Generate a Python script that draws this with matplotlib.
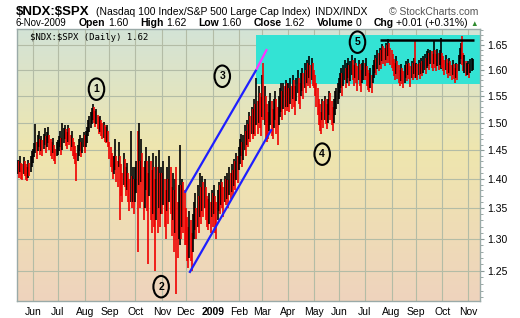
import numpy as np
import pandas as pd
import matplotlib
matplotlib.use('Agg')
import matplotlib.pyplot as plt
from matplotlib.patches import Rectangle
from matplotlib.colors import LinearSegmentedColormap
from matplotlib.ticker import FixedLocator, FixedFormatter, NullFormatter

START = '2008-05-14'

# daily closes (x1000), May 2008 .. Nov 2009
close = [
    1422, 1418, 1428, 1415, 1410, 1425, 1418, 1412, 1405, 1420, 1415, 1428, 1435,
    1440, 1452, 1460, 1448, 1465, 1472, 1458, 1462, 1455, 1468, 1475, 1460, 1470, 1478, 1465, 1458, 1450, 1462, 1445, 1438, 1452,
    1455, 1462, 1470, 1458, 1465, 1478, 1485, 1472, 1468, 1480, 1475, 1462, 1470, 1458, 1450, 1440, 1420, 1445, 1455, 1462, 1450, 1458, 1470,
    1462, 1470, 1478, 1490, 1498, 1505, 1512, 1520, 1515, 1508, 1512, 1502, 1495, 1498, 1490, 1485, 1488, 1480, 1476, 1480, 1472,
    1450, 1440, 1428, 1420, 1425, 1432, 1418, 1410, 1440, 1415, 1400, 1385, 1420, 1410, 1398, 1405, 1385, 1370, 1400, 1380, 1392, 1375,
    1395, 1410, 1380, 1420, 1385, 1440, 1400, 1370, 1395, 1425, 1390, 1360, 1410, 1380, 1350, 1395, 1370, 1340, 1385, 1360, 1400, 1365, 1380,
    1375, 1395, 1360, 1340, 1385, 1365, 1400, 1380, 1345, 1370, 1330, 1355, 1320, 1300, 1350, 1390, 1340, 1370, 1355, 1330,
    1320, 1300, 1285, 1310, 1290, 1275, 1305, 1330, 1345, 1320, 1355, 1340, 1365, 1350, 1375, 1360, 1380, 1355, 1345, 1340, 1350, 1335, 1360,
    1350, 1365, 1340, 1330, 1355, 1370, 1365, 1380, 1372, 1360, 1385, 1378, 1390, 1375, 1395, 1388, 1400, 1392, 1410, 1405, 1420, 1415,
    1430, 1445, 1460, 1440, 1455, 1470, 1462, 1480, 1475, 1495, 1488, 1505, 1498, 1520, 1510, 1530, 1515, 1545, 1530, 1525,
    1545, 1530, 1535, 1520, 1500, 1490, 1510, 1525, 1505, 1495, 1515, 1530, 1510, 1495, 1520, 1535, 1545, 1530, 1550, 1540, 1555, 1548,
    1555, 1540, 1560, 1548, 1570, 1555, 1545, 1565, 1580, 1560, 1550, 1575, 1585, 1570, 1590, 1580, 1600, 1595, 1610, 1590, 1605, 1595,
    1585, 1570, 1555, 1540, 1520, 1510, 1500, 1525, 1515, 1530, 1520, 1510, 1525, 1540, 1530, 1515, 1505, 1520, 1535, 1545, 1555,
    1565, 1575, 1585, 1570, 1590, 1600, 1585, 1595, 1605, 1590, 1598, 1610, 1600, 1590, 1605, 1595, 1585, 1600, 1590, 1580, 1595, 1600,
    1598, 1605, 1590, 1580, 1575, 1585, 1570, 1590, 1600, 1612, 1605, 1620, 1615, 1628, 1620, 1635, 1630, 1625, 1638, 1632, 1645, 1635, 1628,
    1622, 1615, 1605, 1598, 1610, 1600, 1592, 1585, 1595, 1588, 1580, 1592, 1600, 1595, 1605, 1598, 1590, 1602, 1598, 1610, 1595,
    1600, 1595, 1605, 1598, 1608, 1602, 1610, 1615, 1608, 1620, 1625, 1618, 1628, 1622, 1615, 1630, 1622, 1615, 1625, 1618, 1628, 1632,
    1620, 1612, 1605, 1615, 1608, 1600, 1610, 1602, 1595, 1605, 1598, 1590, 1600, 1595, 1612, 1630, 1642, 1625, 1610, 1618, 1600, 1605,
    1605, 1598, 1610, 1612, 1620,
]
high = [
    1432, 1430, 1440, 1428, 1425, 1438, 1430, 1425, 1420, 1432, 1428, 1440, 1448,
    1452, 1462, 1498, 1465, 1478, 1485, 1470, 1475, 1468, 1480, 1490, 1475, 1482, 1492, 1478, 1470, 1465, 1472, 1460, 1452, 1465,
    1468, 1475, 1485, 1472, 1500, 1490, 1495, 1488, 1482, 1495, 1490, 1478, 1485, 1472, 1465, 1458, 1445, 1460, 1470, 1478, 1465, 1472, 1482,
    1478, 1485, 1492, 1505, 1512, 1520, 1528, 1535, 1530, 1522, 1525, 1515, 1510, 1512, 1505, 1500, 1502, 1495, 1492, 1495, 1485,
    1465, 1455, 1445, 1440, 1440, 1470, 1440, 1430, 1465, 1440, 1425, 1410, 1445, 1435, 1420, 1428, 1410, 1400, 1485, 1405, 1420, 1400,
    1420, 1430, 1485, 1500, 1430, 1470, 1445, 1420, 1430, 1455, 1430, 1410, 1440, 1430, 1415, 1445, 1420, 1400, 1440, 1420, 1450, 1410, 1420,
    1410, 1430, 1400, 1380, 1420, 1400, 1440, 1420, 1385, 1410, 1380, 1400, 1420, 1360, 1390, 1460, 1390, 1400, 1395, 1380,
    1350, 1335, 1320, 1345, 1330, 1310, 1340, 1360, 1375, 1350, 1390, 1370, 1410, 1385, 1405, 1395, 1400, 1385, 1370, 1365, 1375, 1360, 1380,
    1375, 1390, 1370, 1360, 1380, 1395, 1390, 1400, 1395, 1385, 1405, 1400, 1410, 1398, 1420, 1410, 1425, 1415, 1435, 1430, 1445, 1440,
    1455, 1470, 1480, 1465, 1478, 1495, 1485, 1505, 1498, 1520, 1512, 1530, 1525, 1545, 1535, 1585, 1540, 1570, 1555, 1548,
    1590, 1615, 1570, 1550, 1535, 1520, 1540, 1555, 1540, 1525, 1545, 1560, 1545, 1530, 1550, 1565, 1575, 1560, 1575, 1570, 1580, 1575,
    1575, 1565, 1585, 1570, 1590, 1580, 1570, 1585, 1600, 1585, 1575, 1595, 1605, 1595, 1615, 1600, 1620, 1615, 1628, 1610, 1625, 1615,
    1600, 1590, 1575, 1565, 1545, 1535, 1520, 1545, 1540, 1550, 1545, 1535, 1545, 1560, 1555, 1540, 1530, 1545, 1560, 1565, 1575,
    1585, 1595, 1605, 1595, 1610, 1620, 1605, 1615, 1625, 1610, 1618, 1630, 1620, 1610, 1625, 1615, 1608, 1620, 1612, 1600, 1615, 1620,
    1615, 1625, 1608, 1600, 1595, 1605, 1590, 1610, 1620, 1630, 1625, 1640, 1635, 1645, 1640, 1652, 1648, 1645, 1655, 1650, 1662, 1655, 1645,
    1640, 1632, 1622, 1615, 1628, 1618, 1610, 1600, 1612, 1605, 1598, 1610, 1618, 1612, 1622, 1615, 1608, 1618, 1615, 1625, 1660,
    1615, 1612, 1620, 1615, 1625, 1618, 1628, 1632, 1625, 1638, 1642, 1635, 1640, 1638, 1632, 1660, 1640, 1632, 1642, 1635, 1640, 1665,
    1635, 1628, 1620, 1630, 1622, 1615, 1625, 1618, 1610, 1620, 1612, 1605, 1615, 1612, 1630, 1645, 1655, 1668, 1635, 1630, 1618, 1615,
    1618, 1612, 1622, 1625, 1622,
]
low = [
    1408, 1402, 1412, 1400, 1398, 1408, 1405, 1398, 1396, 1402, 1405, 1412, 1420,
    1428, 1438, 1445, 1435, 1448, 1455, 1442, 1448, 1440, 1452, 1460, 1445, 1455, 1462, 1450, 1440, 1435, 1445, 1430, 1425, 1440,
    1442, 1448, 1455, 1442, 1450, 1462, 1470, 1458, 1452, 1465, 1460, 1448, 1455, 1440, 1435, 1425, 1396, 1430, 1440, 1448, 1438, 1445, 1455,
    1445, 1455, 1462, 1475, 1482, 1490, 1498, 1505, 1500, 1492, 1498, 1488, 1480, 1482, 1475, 1470, 1472, 1465, 1462, 1465, 1455,
    1435, 1420, 1412, 1400, 1408, 1415, 1395, 1385, 1420, 1330, 1370, 1360, 1390, 1385, 1370, 1380, 1360, 1345, 1360, 1350, 1360, 1340,
    1360, 1375, 1280, 1390, 1350, 1395, 1360, 1330, 1350, 1380, 1345, 1260, 1370, 1330, 1310, 1340, 1320, 1250, 1330, 1310, 1350, 1320, 1340,
    1340, 1355, 1320, 1300, 1345, 1325, 1360, 1340, 1305, 1330, 1280, 1310, 1215, 1270, 1300, 1290, 1300, 1320, 1310, 1290,
    1290, 1265, 1255, 1270, 1265, 1250, 1280, 1300, 1315, 1300, 1320, 1310, 1335, 1325, 1345, 1335, 1350, 1330, 1320, 1315, 1325, 1310, 1335,
    1320, 1340, 1310, 1300, 1330, 1345, 1340, 1355, 1350, 1335, 1360, 1355, 1365, 1350, 1372, 1365, 1378, 1370, 1388, 1380, 1398, 1392,
    1415, 1425, 1440, 1420, 1432, 1450, 1440, 1460, 1455, 1470, 1465, 1480, 1470, 1480, 1475, 1495, 1480, 1500, 1490, 1475,
    1510, 1505, 1495, 1470, 1465, 1470, 1485, 1495, 1475, 1470, 1490, 1505, 1480, 1460, 1495, 1510, 1520, 1505, 1525, 1515, 1530, 1522,
    1530, 1520, 1535, 1525, 1545, 1530, 1515, 1540, 1555, 1535, 1525, 1550, 1560, 1545, 1565, 1555, 1575, 1570, 1585, 1565, 1580, 1570,
    1565, 1550, 1530, 1515, 1495, 1485, 1480, 1505, 1490, 1505, 1498, 1488, 1500, 1515, 1505, 1495, 1485, 1500, 1515, 1525, 1535,
    1545, 1555, 1565, 1550, 1570, 1580, 1565, 1575, 1585, 1570, 1578, 1590, 1580, 1570, 1585, 1575, 1560, 1580, 1570, 1558, 1575, 1580,
    1580, 1588, 1570, 1562, 1558, 1565, 1555, 1575, 1585, 1595, 1590, 1602, 1598, 1610, 1602, 1618, 1612, 1608, 1620, 1615, 1628, 1615, 1610,
    1605, 1598, 1588, 1580, 1592, 1582, 1575, 1570, 1578, 1572, 1565, 1575, 1585, 1578, 1590, 1582, 1568, 1585, 1580, 1592, 1585,
    1585, 1580, 1590, 1582, 1592, 1588, 1595, 1600, 1592, 1605, 1608, 1600, 1612, 1605, 1598, 1612, 1605, 1598, 1608, 1600, 1610, 1602,
    1605, 1598, 1590, 1600, 1592, 1585, 1595, 1588, 1580, 1590, 1582, 1575, 1585, 1580, 1598, 1612, 1622, 1610, 1598, 1595, 1588, 1590,
    1590, 1585, 1595, 1598, 1600,
]

y_ticks = [1.25, 1.30, 1.35, 1.40, 1.45, 1.50, 1.55, 1.60, 1.65]
y_tick_labels = ['1.25', '1.30', '1.35', '1.40', '1.45', '1.50', '1.55', '1.60', '1.65']

ann_labels = ['1', '2', '3', '4', '5']
ann_dates = ['2008-08-15', '2008-10-31', '2009-01-13', '2009-05-12', '2009-06-23']
ann_prices = [1.563, 1.226, 1.588, 1.443, 1.656]

upper_dates = ['2008-11-28', '2009-02-23']
upper_prices = [1.376, 1.601]
upper_ext_dates = ['2009-02-23', '2009-03-06']
upper_ext_prices = [1.601, 1.642]
lower_dates = ['2008-12-04', '2009-03-12']
lower_prices = [1.247, 1.488]
resist_dates = ['2009-07-20', '2009-11-09']
resist_price = 1.661
zone_start = '2009-02-23'
zone_prices = [1.573, 1.670]

W, H = 520, 318
FONT = ['Liberation Sans', 'DejaVu Sans']


def idx(d):
    return float(np.busday_count(START, d))


c = np.array(close) / 1000.0
hi = np.array(high) / 1000.0
lo = np.array(low) / 1000.0
n = len(c)
dates = pd.bdate_range(START, periods=n)
x = np.arange(n)
prev = np.r_[c[0], c[:-1]]
cols = np.where(c >= prev, '#000000', '#f00000')

fig = plt.figure(figsize=(W / 100, H / 100), dpi=100)
fig.patch.set_facecolor('white')
ax = fig.add_axes([17 / W, 17 / H, 463 / W, 272 / H])

xmin, xmax = -0.6, 393.2
ymin, ymax = 1.2046, 1.683

# background gradient
cmap = LinearSegmentedColormap.from_list(
    'bg', [(0.0, '#d3e3d6'), (0.45, '#efe6ae'), (1.0, '#eed3bd')])
grad = np.linspace(0, 1, 256).reshape(-1, 1)
ax.imshow(grad, extent=(0, 1, 0, 1), transform=ax.transAxes, cmap=cmap,
          aspect='auto', zorder=0, origin='upper')

# cyan zone
zx0 = idx(zone_start)
ax.add_patch(Rectangle((zx0, zone_prices[0]), xmax - zx0, zone_prices[1] - zone_prices[0],
                       facecolor='#33e3d4', edgecolor='none', zorder=1))

ax.set_yscale('log')
ax.vlines(x, lo, hi, colors=cols, lw=1.2, zorder=3)

ax.plot([idx(d) for d in upper_dates], upper_prices, color='#1f1fff', lw=1.6, zorder=4,
        solid_capstyle='butt')
ax.plot([idx(d) for d in upper_ext_dates], upper_ext_prices, color='#ff33ff', lw=1.6, zorder=4,
        solid_capstyle='butt')
ax.plot([idx(d) for d in lower_dates], lower_prices, color='#1f1fff', lw=1.6, zorder=4,
        solid_capstyle='butt')
ax.plot([idx(d) for d in resist_dates], [resist_price, resist_price], color='black', lw=1.8,
        zorder=4, solid_capstyle='butt')

for lab, d, p in zip(ann_labels, ann_dates, ann_prices):
    ax.text(idx(d), p, lab, ha='center', va='center', fontsize=7.5, fontweight='bold',
            family=FONT, zorder=5,
            bbox=dict(boxstyle='ellipse,pad=0.25', facecolor='none', edgecolor='black', lw=1.5))

ax.set_xlim(xmin, xmax)
ax.set_ylim(ymin, ymax)

# month ticks
mstarts = []
mlabels = []
per = dates.to_period('M')
for i in range(1, n):
    if per[i] != per[i - 1]:
        mstarts.append(i)
        mlabels.append('2009' if dates[i].month == 1 else dates[i].strftime('%b'))
ax.xaxis.set_major_locator(FixedLocator(mstarts))
ax.xaxis.set_major_formatter(FixedFormatter(mlabels))
ax.tick_params(axis='x', length=0, pad=4, labelsize=7.5, colors='#000000')
for t in ax.get_xticklabels():
    t.set_family(FONT)
    if t.get_text() == '2009':
        t.set_fontweight('bold')

ax.yaxis.tick_right()
ax.yaxis.set_major_locator(FixedLocator(y_ticks))
ax.yaxis.set_major_formatter(FixedFormatter(y_tick_labels))
ax.yaxis.set_minor_locator(FixedLocator(np.arange(1.21, 1.681, 0.01)))
ax.yaxis.set_minor_formatter(NullFormatter())
ax.tick_params(axis='y', which='major', length=3, width=0.8, color='#8a9a98', pad=2,
               labelsize=7.5, labelcolor='black')
ax.tick_params(axis='y', which='minor', length=2, width=0.6, color='#8a9a98')
for t in ax.get_yticklabels():
    t.set_family(FONT)

ax.grid(True, which='major', color='#b3bca6', lw=0.8)
ax.set_axisbelow(True)
for s in ax.spines.values():
    s.set_color('#9aaaa8')
    s.set_linewidth(1.0)

# in-plot legend
ax.text(0.028, 1 - 11 / 272, '$NDX:$SPX (Daily) 1.62', transform=ax.transAxes,
        fontsize=6.5, family=['DejaVu Sans Mono'], va='baseline', ha='left', zorder=6,
        parse_math=False)

# header
renderer = fig.canvas.get_renderer()


def make(s, kw):
    return fig.text(0, 0, s, ha='left', va='baseline', family=FONT, parse_math=False, **kw)


def row(x0, x1, ybase, items, pair_gap=2.5):
    """items: list of groups; each group a list of (text, kw). Spread groups from x0 to x1."""
    objs = [[make(s, kw) for s, kw in g] for g in items]
    widths = [[o.get_window_extent(renderer=renderer).width for o in g] for g in objs]
    gw = [sum(w) + pair_gap * (len(w) - 1) for w in widths]
    gap = (x1 - x0 - sum(gw)) / max(len(items) - 1, 1)
    xx = x0
    for g, w in zip(objs, widths):
        for o, ww in zip(g, w):
            o.set_position((xx / W, 1 - ybase / H))
            xx += ww + pair_gap
        xx += gap - pair_gap


t1 = make('$NDX:$SPX', dict(fontsize=9.5, fontweight='bold'))
t1.set_position((16 / W, 1 - 15 / H))
xx = 16 + t1.get_window_extent(renderer=renderer).width + 6
t2 = make('(Nasdaq 100 Index/S&P 500 Large Cap Index)', dict(fontsize=7.5))
t2.set_position((xx / W, 1 - 15 / H))
xx += t2.get_window_extent(renderer=renderer).width + 5
t3 = make('INDX/INDX', dict(fontsize=7.5))
t3.set_position((xx / W, 1 - 15 / H))
fig.text(478 / W, 1 - 15 / H, '\u00a9 StockCharts.com', ha='right', va='baseline',
         family=FONT, fontsize=7.5, color='#555555')

b = dict(fontsize=7.5, fontweight='bold')
r = dict(fontsize=7.5)
row(16, 478, 26, [
    [('6-Nov-2009', dict(fontsize=7))],
    [('Open', b), ('1.60', r)],
    [('High', b), ('1.62', r)],
    [('Low', b), ('1.60', r)],
    [('Close', b), ('1.62', r)],
    [('Volume', b), ('0', r)],
    [('Chg', b), ('+0.01 (+0.31%)', r), ('\u25b2', dict(fontsize=5.5, color='#2e8b2e'))],
])

fig.savefig('out.png', dpi=100, facecolor='white')
